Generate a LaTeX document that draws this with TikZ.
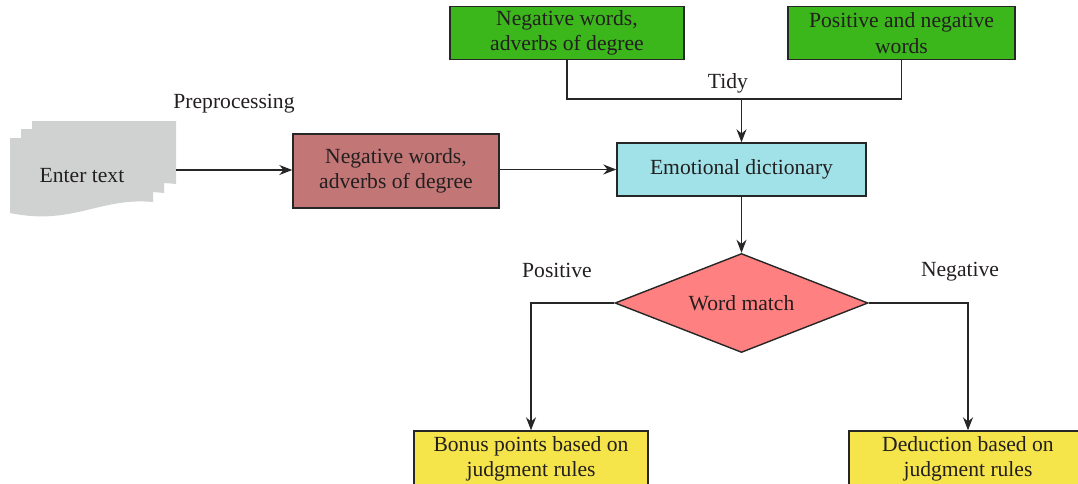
\documentclass[tikz,border=0pt]{standalone}
\usepackage{fontspec}
\setmainfont{Liberation Serif}
\usetikzlibrary{arrows.meta,shapes.geometric}
\definecolor{DocGray}{HTML}{D0D2D2}
\definecolor{PrepRed}{HTML}{C27676}
\definecolor{DictCyan}{HTML}{A0E2E8}
\definecolor{TidyGreen}{HTML}{3BB61B}
\definecolor{MatchPink}{HTML}{FF8080}
\definecolor{RuleYellow}{HTML}{F5E54B}
\definecolor{InkGray}{HTML}{231F20}

\begin{document}
\begin{tikzpicture}[x=0.5pt,y=-0.5pt,
  font=\fontsize{10.8}{12.8}\selectfont,
  every node/.style={text=InkGray},
  box/.style={draw=black!85,line width=0.7pt,align=center,inner sep=0pt},
  link/.style={line width=0.6pt,draw=black!85},
  flow/.style={link,-{Stealth[length=6.5pt,width=5pt]}}]
  \useasboundingbox (0,0) rectangle (1078,483);
  \fill[DocGray] (32,121) -- (176,121) -- (176,184)
    .. controls (125,178) and (95,205) .. (32,197) -- cycle;
  \fill[DocGray] (21,129) -- (164,129) -- (164,193)
    .. controls (112,187) and (85,214) .. (21,205) -- cycle;
  \fill[DocGray] (10,138) -- (153,138) -- (153,202)
    .. controls (100,197) and (72,226) .. (10,213) -- cycle;
  \node (enter) at (82,176) {Enter text};
  \coordinate (docout) at (176,170);
  \node (prep) at (234,104) {Preprocessing};
  \node[box,fill=PrepRed,minimum width=103pt,minimum height=37pt] (neg) at (396,171)
    {Negative words,\\adverbs of degree};
  \node[box,fill=DictCyan,minimum width=124.5pt,minimum height=26.5pt] (dict) at (741.5,169.5)
    {Emotional dictionary};
  \node[box,fill=TidyGreen,minimum width=117pt,minimum height=26.5pt] (grn1) at (567,33)
    {Negative words,\\adverbs of degree};
  \node[box,fill=TidyGreen,minimum width=113.5pt,minimum height=26.5pt] (grn2) at (901.5,33)
    {Positive and negative\\words};
  \node (tidy) at (728,83) {Tidy};
  \node[box,diamond,fill=MatchPink,minimum width=126.5pt,minimum height=49.5pt,aspect=2.55] (match) at (741.5,303)
    {Word match};
  \node (pos) at (557,270) {Positive};
  \node (negl) at (960,272) {Negative};
  \node[box,fill=RuleYellow,minimum width=117pt,minimum height=28pt] (bonus) at (531,459)
    {Bonus points based on\\judgment rules};
  \node[box,fill=RuleYellow,minimum width=119pt,minimum height=28pt] (deduct) at (968,459)
    {Deduction based on\\judgment rules};
  \draw[flow] (docout) -- (docout -| neg.west);
  \draw[flow] (neg.east |- dict) -- (dict.west);
  \draw[link] (grn1.south) |- (grn2.south |- 0,99) -- (grn2.south);
  \coordinate (join) at (dict.north |- 0,99);
  \draw[flow] (join) -- (dict.north);
  \draw[flow] (dict.south) -- (match.north);
  \draw[flow] (match.west) -| (bonus.north);
  \draw[flow] (match.east) -| (deduct.north);
\end{tikzpicture}
\end{document}
